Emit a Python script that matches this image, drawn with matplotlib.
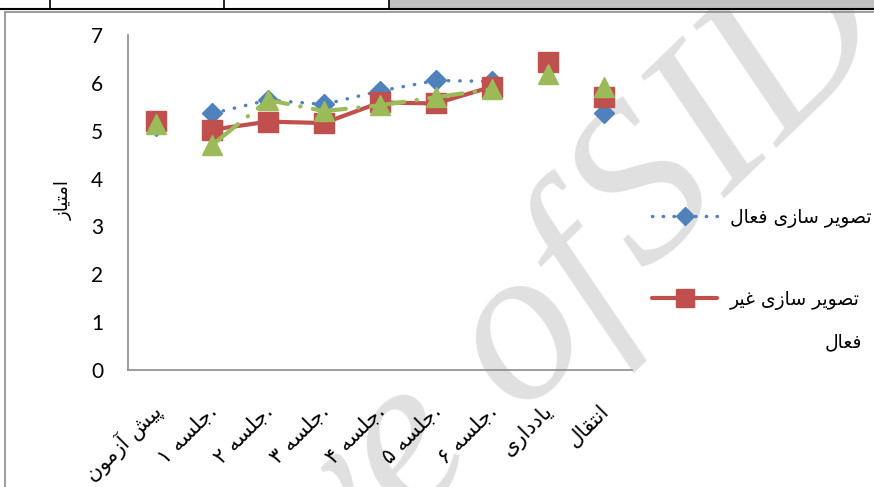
import numpy as np
import matplotlib.pyplot as plt
from matplotlib.lines import Line2D
from matplotlib.transforms import ScaledTranslation

# categories (logical Persian text)
categories = ['پیش آزمون', 'جلسه ۱.', 'جلسه ۲.', 'جلسه ۳.', 'جلسه ۴.',
              'جلسه ۵.', 'جلسه ۶.', 'یادداری', 'انتقال']
active = [5.10, 5.36, 5.64, 5.55, 5.83, 6.05, 6.03, 6.40, 5.36]
passive = [5.21, 5.02, 5.19, 5.16, 5.59, 5.57, 5.92, 6.44, 5.70]
third = [5.13, 4.70, 5.64, 5.41, 5.53, 5.70, 5.87, 6.19, 5.91]
name_active = 'تصویر سازی فعال'
name_passive = 'تصویر سازی غیر فعال'
ylabel = 'امتیاز'

# minimal arabic/persian shaping (matplotlib has no complex text layout)
# (isolated, final, initial, medial)
FORMS = {
    'ا': ('\uFE8D', '\uFE8E', None, None),
    'آ': ('\uFE81', '\uFE82', None, None),
    'د': ('\uFEA9', '\uFEAA', None, None),
    'ر': ('\uFEAD', '\uFEAE', None, None),
    'ز': ('\uFEAF', '\uFEB0', None, None),
    'و': ('\uFEED', '\uFEEE', None, None),
    'ت': ('\uFE95', '\uFE96', '\uFE97', '\uFE98'),
    'ج': ('\uFE9D', '\uFE9E', '\uFE9F', '\uFEA0'),
    'س': ('\uFEB1', '\uFEB2', '\uFEB3', '\uFEB4'),
    'ش': ('\uFEB5', '\uFEB6', '\uFEB7', '\uFEB8'),
    'ص': ('\uFEB9', '\uFEBA', '\uFEBB', '\uFEBC'),
    'ع': ('\uFEC9', '\uFECA', '\uFECB', '\uFECC'),
    'غ': ('\uFECD', '\uFECE', '\uFECF', '\uFED0'),
    'ف': ('\uFED1', '\uFED2', '\uFED3', '\uFED4'),
    'ق': ('\uFED5', '\uFED6', '\uFED7', '\uFED8'),
    'ل': ('\uFEDD', '\uFEDE', '\uFEDF', '\uFEE0'),
    'م': ('\uFEE1', '\uFEE2', '\uFEE3', '\uFEE4'),
    'ن': ('\uFEE5', '\uFEE6', '\uFEE7', '\uFEE8'),
    'ه': ('\uFEE9', '\uFEEA', '\uFEEB', '\uFEEC'),
    'ی': ('\uFBFC', '\uFBFD', '\uFBFE', '\uFBFF'),
    'پ': ('\uFB56', '\uFB57', '\uFB58', '\uFB59'),
}


def rtl(s):
    tail = ''
    while s and s[-1] in '.:':
        tail = s[-1] + tail
        s = s[:-1]
    out = []
    for i, ch in enumerate(s):
        if ch not in FORMS:
            out.append(ch)
            continue
        prev = s[i - 1] if i > 0 else ''
        nxt = s[i + 1] if i + 1 < len(s) else ''
        jp = prev in FORMS and FORMS[prev][2] is not None
        jn = FORMS[ch][2] is not None and nxt in FORMS
        iso, fin, ini, med = FORMS[ch]
        if jp and jn:
            out.append(med)
        elif jp:
            out.append(fin)
        elif jn:
            out.append(ini)
        else:
            out.append(iso)
    return ''.join(reversed(out)) + tail


plt.rcParams['font.family'] = ['DejaVu Sans']

blue = '#4F81BD'
red = '#C0504D'
green = '#9BBB59'

fig = plt.figure(figsize=(8.74, 4.87), dpi=100)

# watermark
wm = dict(rotation=44, rotation_mode='anchor', ha='center', va='center',
          fontsize=160, family='Liberation Serif', style='italic',
          color='#e0e0e0', zorder=-1)
fig.text(282 / 874, 1 - 583 / 487, 'Archive of', **wm)
fig.text(732 / 874, 1 - 114 / 487, 'SID', **wm)

# page table remnants
fig.patches.append(plt.Rectangle((389 / 874, 1 - 9 / 487), 1, 9 / 487,
                                 transform=fig.transFigure, color='#c0c0c0', zorder=1))
fig.add_artist(Line2D([0, 1], [1 - 9 / 487] * 2, color='black', lw=1.5))
for xp in [50, 224, 389]:
    fig.add_artist(Line2D([xp / 874] * 2, [1 - 9 / 487, 1], color='black', lw=1.2))
fig.add_artist(Line2D([5 / 874, 1], [1 - 12 / 487] * 2, color='#8c8c8c', lw=1.2))
fig.add_artist(Line2D([5 / 874] * 2, [0, 1 - 12 / 487], color='#8c8c8c', lw=1.2))

ax = fig.add_axes([128 / 874, 1 - 370 / 487, 504 / 874, 335 / 487])
ax.patch.set_alpha(0)
x = np.arange(len(categories))
sl = slice(1, 7)

ax.plot(x[sl], active[sl], color=blue, lw=2.5, linestyle=(0, (0.1, 3.2)),
        dash_capstyle='round', zorder=3)
ax.plot(x, active, 'D', color=blue, ms=10.5, mec=blue, zorder=3.1)
ax.plot(x[sl], passive[sl], color=red, lw=3, solid_capstyle='round', zorder=4)
ax.plot(x, passive, 's', color=red, ms=14, mec=red, zorder=4.1)
l3, = ax.plot(x[sl], third[sl], color=green, lw=3, dash_capstyle='round',
              solid_capstyle='round', zorder=5)
l3.set_dashes([8, 3, 0.1, 3])
ax.plot(x, third, '^', color=green, ms=15, mec=green, zorder=5.1)

ax.set_xlim(-0.5, len(categories) - 0.5)
ax.set_ylim(0, 7)
ax.set_yticks(range(8))
ax.set_yticklabels([str(v) for v in range(8)], family='Lato', fontsize=15)
ax.set_xticks(x)
ax.set_xticklabels([])
# category labels, rotated, hanging below the axis
off = ScaledTranslation(2 / 100, -38 / 100, fig.dpi_scale_trans)
for i, c in enumerate(categories):
    ax.text(x[i], 0, rtl(c), transform=ax.get_xaxis_transform() + off,
            rotation=45, ha='right', va='center', rotation_mode='anchor',
            fontsize=15, clip_on=False)
ax.tick_params(length=0)
ax.tick_params(axis='y', pad=18)
for s in ['top', 'right']:
    ax.spines[s].set_visible(False)
for s in ['left', 'bottom']:
    ax.spines[s].set_color('#8c8c8c')
    ax.spines[s].set_linewidth(1.2)

fig.text(64 / 874, 1 - 200 / 487, rtl(ylabel), rotation=90, ha='center',
         va='center', fontsize=13)

h1 = Line2D([], [], color=blue, lw=2.5, linestyle=(0, (0.1, 3)),
            dash_capstyle='round', marker='D', ms=9, mec=blue)
h2 = Line2D([], [], color=red, lw=3, solid_capstyle='round', marker='s', ms=13, mec=red)
first, second = name_passive.rsplit(' ', 1)
leg = fig.legend([h1, h2], [rtl(name_active), rtl(first)], loc='upper left',
                 bbox_to_anchor=(652 / 874, 1 - 208 / 487), frameon=False,
                 fontsize=13.5, handlelength=3.47, handletextpad=0.7,
                 labelspacing=3.3, borderpad=0, borderaxespad=0)
fig.text(862 / 874, 1 - 342 / 487, rtl(second), ha='right', va='center',
         fontsize=13.5)

fig.savefig('out.png', dpi=100)
